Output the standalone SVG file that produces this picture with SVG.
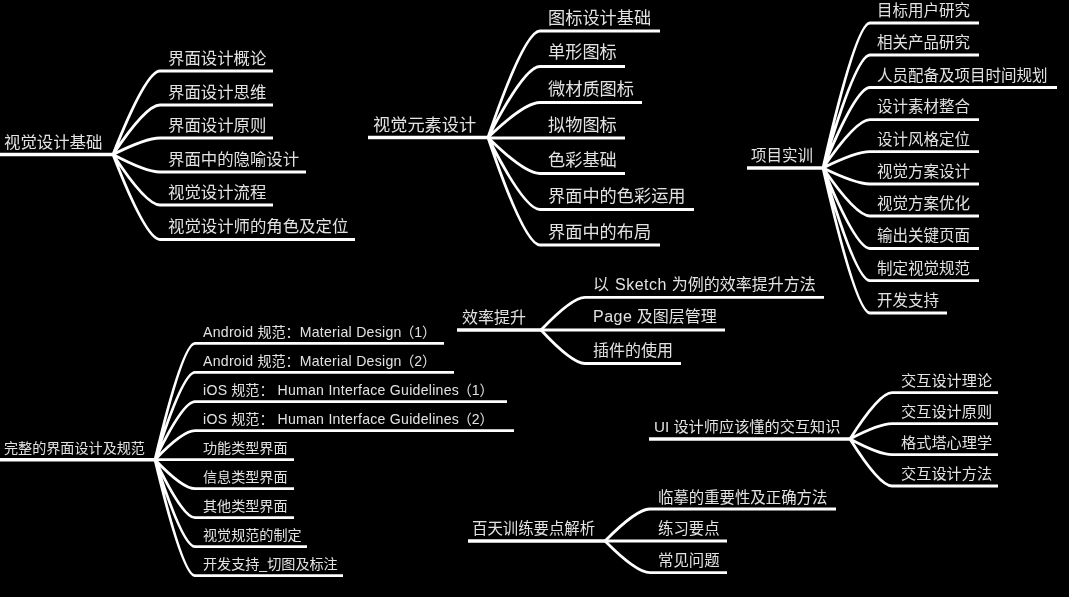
<svg xmlns="http://www.w3.org/2000/svg" width="1069" height="597" viewBox="0 0 1069 597">
<style>
text{font-family:"Liberation Sans","Noto Sans CJK SC",sans-serif;fill:#e2e2e2}
.a text{font-size:16.4px}.b text{font-size:17.2px}.c text{font-size:15.5px}.d text{font-size:16px}.h text{font-size:15.2px}.f text{font-size:15.4px}.e text{font-size:14.1px}
tspan.l{letter-spacing:.27px}
tspan.w{letter-spacing:.5px}
line,path{stroke:#fff;fill:none}
line,path{stroke-width:2.8}
line.r{stroke-width:3.4}
</style>
<defs><filter id="soft" x="-2%" y="-2%" width="104%" height="104%"><feGaussianBlur stdDeviation="0.45"/></filter></defs>
<rect width="1069" height="597" fill="#000"/>
<g filter="url(#soft)">
<g id="connectors">
<path d="M113 154.500Q146 71 160 71M113 154.500Q146 105 160 105M113 154.500Q146 138 160 138M113 154.500Q146 172 160 172M113 154.500Q146 205 160 205M113 154.500Q146 239.500 160 239.500"/>
<path d="M488 137.500Q524.400 31 540 31M488 137.500Q524.400 66.500 540 66.500M488 137.500Q524.400 102.500 540 102.500M488 137.500Q524.400 173.500 540 173.500M488 137.500Q524.400 209.500 540 209.500M488 137.500Q524.400 245 540 245"/>
<path d="M823 168Q856 23 870 23M823 168Q856 55 870 55M823 168Q856 87.500 870 87.500M823 168Q856 119.700 870 119.700M823 168Q856 151.700 870 151.700M823 168Q856 184 870 184M823 168Q856 216 870 216M823 168Q856 248.500 870 248.500M823 168Q856 280.700 870 280.700M823 168Q856 313 870 313"/>
<path d="M541 330Q572 297.300 585 297.300M541 330Q572 363.500 585 363.500"/>
<path d="M850 439Q879.400 392.700 892 392.700M850 439Q879.400 423.700 892 423.700M850 439Q879.400 454.700 892 454.700M850 439Q879.400 486 892 486"/>
<path d="M605 541Q636.500 509 650 509M605 541Q636.500 572.700 650 572.700"/>
<path d="M155 459.700Q182.700 343.300 195 343.300M155 459.700Q182.700 372.300 195 372.300M155 459.700Q182.700 401.700 195 401.700M155 459.700Q182.700 430.700 195 430.700M155 459.700Q182.700 488.700 195 488.700M155 459.700Q182.700 517.700 195 517.700M155 459.700Q182.700 546.700 195 546.700M155 459.700Q182.700 575.700 195 575.700"/>
</g>
<g class="a">
<g id="n-shijue-jichu"><line class="r" x1="0" y1="154.500" x2="113" y2="154.500"/><text x="4" y="147.500">视觉设计基础</text></g>
<g id="a1"><line x1="160" y1="71" x2="273" y2="71"/><text x="168" y="64">界面设计概论</text></g>
<g id="a2"><line x1="160" y1="105" x2="273" y2="105"/><text x="168" y="97.500">界面设计思维</text></g>
<g id="a3"><line x1="160" y1="138" x2="273" y2="138"/><text x="168" y="131">界面设计原则</text></g>
<g id="a4"><line x1="160" y1="172" x2="306" y2="172"/><text x="168" y="164.500">界面中的隐喻设计</text></g>
<g id="a5"><line x1="160" y1="205" x2="273" y2="205"/><text x="168" y="198">视觉设计流程</text></g>
<g id="a6"><line x1="160" y1="239.500" x2="355" y2="239.500"/><text x="168" y="232">视觉设计师的角色及定位</text></g>
</g>
<g class="b">
<g id="n-shijue-yuansu"><line class="r" x1="368" y1="137.500" x2="488" y2="137.500"/><text x="373" y="130.500">视觉元素设计</text></g>
<g id="b1"><line x1="540" y1="31" x2="660" y2="31"/><text x="548" y="24">图标设计基础</text></g>
<g id="b2"><line x1="540" y1="66.500" x2="625" y2="66.500"/><text x="548" y="58">单形图标</text></g>
<g id="b3"><line x1="540" y1="102.500" x2="642" y2="102.500"/><text x="548" y="94.500">微材质图标</text></g>
<g id="b4"><line x1="488" y1="138" x2="625" y2="138"/><text x="548" y="130.500">拟物图标</text></g>
<g id="b5"><line x1="540" y1="173.500" x2="625" y2="173.500"/><text x="548" y="166">色彩基础</text></g>
<g id="b6"><line x1="540" y1="209.500" x2="694" y2="209.500"/><text x="548" y="202">界面中的色彩运用</text></g>
<g id="b7"><line x1="540" y1="245" x2="660" y2="245"/><text x="548" y="237.500">界面中的布局</text></g>
</g>
<g class="c">
<g id="n-xiangmu"><line class="r" x1="747" y1="168" x2="823" y2="168"/><text x="751" y="161">项目实训</text></g>
<g id="c1"><line x1="870" y1="23" x2="979" y2="23"/><text x="877" y="16">目标用户研究</text></g>
<g id="c2"><line x1="870" y1="55" x2="979" y2="55"/><text x="877" y="48">相关产品研究</text></g>
<g id="c3"><line x1="870" y1="87.500" x2="1057" y2="87.500"/><text x="877" y="80.500">人员配备及项目时间规划</text></g>
<g id="c4"><line x1="870" y1="119.700" x2="979" y2="119.700"/><text x="877" y="112">设计素材整合</text></g>
<g id="c5"><line x1="870" y1="151.700" x2="979" y2="151.700"/><text x="877" y="144.700">设计风格定位</text></g>
<g id="c6"><line x1="870" y1="184" x2="979" y2="184"/><text x="877" y="177">视觉方案设计</text></g>
<g id="c7"><line x1="870" y1="216" x2="979" y2="216"/><text x="877" y="209">视觉方案优化</text></g>
<g id="c8"><line x1="870" y1="248.500" x2="979" y2="248.500"/><text x="877" y="241">输出关键页面</text></g>
<g id="c9"><line x1="870" y1="280.700" x2="979" y2="280.700"/><text x="877" y="273.700">制定视觉规范</text></g>
<g id="c10"><line x1="870" y1="313" x2="947" y2="313"/><text x="877" y="306">开发支持</text></g>
</g>
<g class="d">
<g id="n-xiaolv"><line class="r" x1="457" y1="330" x2="541" y2="330"/><text x="462" y="323">效率提升</text></g>
<g id="d1"><line x1="585" y1="297.300" x2="824" y2="297.300"/><text x="593" y="290">以 <tspan class="w" dx="1.500">Sketch</tspan> <tspan dx="0.500">为例的效率提升方法</tspan></text></g>
<g id="d2"><line x1="541" y1="330" x2="725" y2="330"/><text x="593" y="322"><tspan class="w">Page</tspan> 及图层管理</text></g>
<g id="d3"><line x1="585" y1="363.500" x2="681" y2="363.500"/><text x="593" y="356">插件的使用</text></g>
</g>
<g class="h">
<g id="n-jiaohu"><line class="r" x1="649" y1="439" x2="850" y2="439"/><text x="654" y="432">UI 设计师应该懂的交互知识</text></g>
<g id="e1"><line x1="892" y1="392.700" x2="998" y2="392.700"/><text x="901" y="386">交互设计理论</text></g>
<g id="e2"><line x1="892" y1="423.700" x2="998" y2="423.700"/><text x="901" y="417">交互设计原则</text></g>
<g id="e3"><line x1="892" y1="454.700" x2="998" y2="454.700"/><text x="901" y="448">格式塔心理学</text></g>
<g id="e4"><line x1="892" y1="486" x2="998" y2="486"/><text x="901" y="479">交互设计方法</text></g>
</g>
<g class="f">
<g id="n-baitian"><line class="r" x1="468" y1="541" x2="605" y2="541"/><text x="472" y="534">百天训练要点解析</text></g>
<g id="f1"><line x1="650" y1="509" x2="836" y2="509"/><text x="658" y="502.500">临摹的重要性及正确方法</text></g>
<g id="f2"><line x1="605" y1="541" x2="727" y2="541"/><text x="658" y="534">练习要点</text></g>
<g id="f3"><line x1="650" y1="572.700" x2="727" y2="572.700"/><text x="658" y="566">常见问题</text></g>
</g>
<g class="e">
<g id="n-guifan"><line class="r" x1="0" y1="459.700" x2="155" y2="459.700"/><text x="4" y="453">完整的界面设计及规范</text></g>
<g id="g1"><line x1="195" y1="343.300" x2="444" y2="343.300"/><text x="203" y="337"><tspan class="l">Android</tspan> 规范：<tspan class="l">Material Design</tspan><tspan dx="-1.5">（1）</tspan></text></g>
<g id="g2"><line x1="195" y1="372.300" x2="454" y2="372.300"/><text x="203" y="366"><tspan class="l">Android</tspan> 规范：<tspan class="l">Material Design</tspan><tspan dx="-1.5">（2）</tspan></text></g>
<g id="g3"><line x1="195" y1="401.700" x2="507" y2="401.700"/><text x="203" y="395"><tspan class="l">iOS</tspan> 规范： <tspan class="l">Human Interface Guidelines</tspan><tspan dx="-1.5">（1）</tspan></text></g>
<g id="g4"><line x1="195" y1="430.700" x2="514" y2="430.700"/><text x="203" y="424"><tspan class="l">iOS</tspan> 规范： <tspan class="l">Human Interface Guidelines</tspan><tspan dx="-1.5">（2）</tspan></text></g>
<g id="g5"><line x1="155" y1="459.700" x2="294" y2="459.700"/><text x="203" y="453">功能类型界面</text></g>
<g id="g6"><line x1="195" y1="488.700" x2="294" y2="488.700"/><text x="203" y="482">信息类型界面</text></g>
<g id="g7"><line x1="195" y1="517.700" x2="294" y2="517.700"/><text x="203" y="511">其他类型界面</text></g>
<g id="g8"><line x1="195" y1="546.700" x2="307" y2="546.700"/><text x="203" y="540">视觉规范的制定</text></g>
<g id="g9"><line x1="195" y1="575.700" x2="343" y2="575.700"/><text x="203" y="569">开发支持_切图及标注</text></g>
</g>
</g>
</svg>
